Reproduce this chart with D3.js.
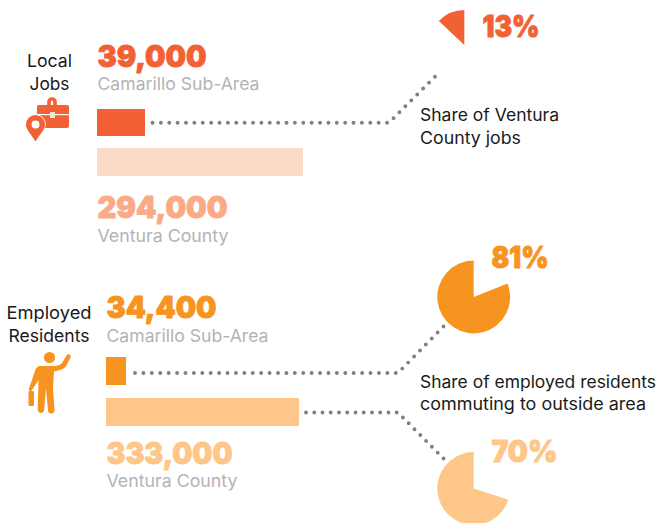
<!DOCTYPE html>
<html><head><meta charset="utf-8">
<script src="https://cdn.jsdelivr.net/npm/d3@7"></script>
<style>html,body{margin:0;padding:0;background:#fff;overflow:hidden}svg{display:block}</style>
</head><body><div id="chart"></div>
<script>
// ---- data ----
const panels = ["Local Jobs", "Employed Residents"];
const areas = ["Camarillo Sub-Area", "Ventura County"];
const jobsValues = [39000, 294000];
const residentValues = [34400, 333000];
const jobsShare = [13];
const residentShares = [81, 70];
const notes = [["Share of Ventura", "County jobs"], ["Share of employed residents", "commuting to outside area"]];

// ---- layout ----
const W = 658, H = 523;
const RED = "#f26133", RED_BAR = "#fbdac8", RED_NUM = "#fbaa87";
const OR = "#f7941f", OR_LIGHT = "#fec689";
const GREY = "#b3b3b6", DOT = "#808083", INK = "#1a1a1a";
const FONT = "Inter, 'Open Sans', sans-serif";

const svg = d3.select("#chart").append("svg").attr("width", W).attr("height", H);
const fmt = d3.format(",");

function txt(x, y, s, size, weight, fill, len, anchor) {
  const t = svg.append("text").attr("x", x).attr("y", y).text(s)
    .attr("font-family", FONT).attr("font-size", size).attr("font-weight", weight)
    .attr("fill", fill).attr("text-anchor", anchor || "start");
  if (len) t.attr("textLength", len).attr("lengthAdjust", "spacingAndGlyphs");
  return t;
}
function big(x, y, s, fill, len) {
  return txt(x, y, s, 30, 900, fill, len).attr("stroke", fill).attr("stroke-width", 0.9).attr("stroke-linejoin", "round");
}
function pieSlice(cx, cy, r, pct, startFrac, fill) {
  const a0 = startFrac * 2 * Math.PI;
  const slice = d3.pie().sort(null).startAngle(a0).endAngle(a0 + 2 * Math.PI)([pct, 100 - pct])[0];
  svg.append("path").attr("transform", `translate(${cx},${cy})`)
    .attr("d", d3.arc().innerRadius(0).outerRadius(r)(slice)).attr("fill", fill);
}
function leader(pts) {
  const p = svg.append("path").attr("d", d3.line()(pts)).attr("fill", "none").attr("stroke", DOT)
    .attr("stroke-width", 3.9).attr("stroke-linecap", "round");
  const len = p.node().getTotalLength();
  const gap = (len - 0.01) / Math.round(len / 8.38);
  p.attr("stroke-dasharray", `0 ${gap}`);
}

// bars: widths come from a scale per panel
const xJobs = d3.scaleLinear().domain(jobsValues).range([48, 206]);
const xRes = d3.scaleLinear().domain(residentValues).range([20, 193]);

// Local jobs
svg.append("rect").attr("x", 97).attr("y", 109).attr("width", xJobs(jobsValues[0])).attr("height", 27).attr("fill", RED);
svg.append("rect").attr("x", 97).attr("y", 148).attr("width", xJobs(jobsValues[1])).attr("height", 28).attr("fill", RED_BAR);
big(97.5, 66.5, fmt(jobsValues[0]), RED, 109);
txt(97.5, 90, areas[0], 17.4, 400, GREY, 162);
big(97.5, 217.5, fmt(jobsValues[1]), RED_NUM, 130);
txt(97.5, 242, areas[1], 17.4, 400, GREY, 131);

// Employed residents
svg.append("rect").attr("x", 106).attr("y", 357).attr("width", xRes(residentValues[0])).attr("height", 28).attr("fill", OR);
svg.append("rect").attr("x", 106).attr("y", 398).attr("width", xRes(residentValues[1])).attr("height", 28).attr("fill", OR_LIGHT);
big(106.5, 318, fmt(residentValues[0]), OR, 110);
txt(106.5, 342, areas[0], 17.4, 400, GREY, 162);
big(106.5, 464, fmt(residentValues[1]), OR_LIGHT, 126);
txt(106.5, 487, areas[1], 17.4, 400, GREY, 131);

// side labels
const lab1 = panels[0].split(" "), lab2 = panels[1].split(" ");
txt(49.5, 67, lab1[0], 17.4, 400, INK, 45, "middle");
txt(49.5, 90, lab1[1], 17.4, 400, INK, 40, "middle");
txt(49, 319, lab2[0], 17.4, 400, INK, 85, "middle");
txt(49, 342, lab2[1], 17.4, 400, INK, 81, "middle");

// pies
pieSlice(464.3, 45, 35, jobsShare[0], -jobsShare[0] / 100, RED);
pieSlice(473.7, 297, 36.4, residentShares[0], 1 - residentShares[0] / 100, OR);
pieSlice(473.7, 488.5, 36.4, residentShares[1], 1 - residentShares[1] / 100, OR_LIGHT);
big(482.5, 37, jobsShare[0] + "%", RED, 57);
big(491.5, 268, residentShares[0] + "%", OR, 57);
big(491.5, 462, residentShares[1] + "%", OR_LIGHT, 66);

// leaders
leader([[152.5, 122.7], [389, 122.7], [435, 76.7]]);
leader([[135, 373], [398, 373], [443.5, 326.5]]);
leader([[306, 412.5], [398, 412.5], [443.5, 458.5]]);

// notes
txt(420, 121, notes[0][0], 17, 400, INK, 139);
txt(420, 144, notes[0][1], 17, 400, INK, 101);
txt(420, 388, notes[1][0], 17, 400, INK, 236);
txt(420, 410, notes[1][1], 17, 400, INK, 226);

// icon: briefcase and pin
const g1 = svg.append("g");
g1.append("path").attr("fill", "none").attr("stroke", RED).attr("stroke-width", 3.6)
  .attr("d", "M49,106V102a3,3 0 0 1 3,-3h0a3,3 0 0 1 3,3V106");
g1.append("rect").attr("x", 37).attr("y", 105).attr("width", 32).attr("height", 23).attr("rx", 2).attr("fill", RED);
g1.append("rect").attr("x", 37).attr("y", 114).attr("width", 32).attr("height", 1.2).attr("fill", "#fff");
g1.append("rect").attr("x", 50).attr("y", 112).attr("width", 5).attr("height", 6).attr("fill", "#fde3d8");
g1.append("path").attr("fill", RED).attr("stroke", "#fff").attr("stroke-width", 1.6).attr("paint-order", "stroke")
  .attr("d", "M35.5,141.5C32,135 26,130.5 26,124.5a9.5,9.5 0 0 1 19,0C45,130.5 39,135 35.5,141.5Z");
g1.append("circle").attr("cx", 35.5).attr("cy", 124.5).attr("r", 4).attr("fill", "#fff");

// icon: person
const g2 = svg.append("g").attr("fill", OR);
g2.append("circle").attr("cx", 49.5).attr("cy", 357.5).attr("r", 5.6);
g2.append("path").attr("d", "M40,366L53,366C58,366 61,365 63,361.5L66.5,355.5A2.2,2.2 0 0 1 70.5,357.5L66.5,365.5C65,368.5 60,370.5 54,371.5L53,388L54.5,410A3.3,3.3 0 0 1 48,411L46,388L44,411A3.3,3.3 0 0 1 37.7,410L38.5,380L32,390A1.5,1.5 0 0 1 29,388.5L35,371C36,367.5 38,366 40,366Z");
g2.append("rect").attr("x", 28.5).attr("y", 391).attr("width", 5.5).attr("height", 15).attr("rx", 1);
</script></body></html>
